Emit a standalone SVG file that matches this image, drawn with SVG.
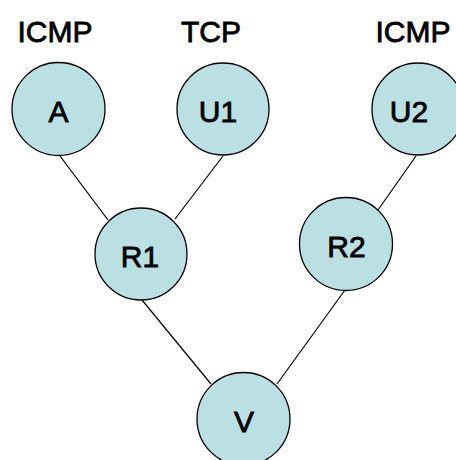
<svg xmlns="http://www.w3.org/2000/svg" width="456" height="460" viewBox="0 0 456 460">
  <style>
    .node circle { fill: #bae0e3; stroke: #000; stroke-width: 1.3; }
    .node text, .lbl { font-family: "Liberation Sans", Arial, sans-serif; font-size: 30px; fill: #000; stroke: #000; stroke-width: 0.8; text-anchor: middle; }
    .edges line { stroke: #000; stroke-width: 1.2; }
  </style>
  <rect width="456" height="460" fill="#fff"/>

  <!-- protocol labels -->
  <text class="lbl" x="55" y="42">ICMP</text>
  <text class="lbl" x="211" y="42">TCP</text>
  <text class="lbl" x="413" y="42">ICMP</text>

  <!-- links -->
  <g id="edges" class="edges">
    <line x1="60" y1="156" x2="108" y2="220"/>
    <line x1="223" y1="156" x2="175" y2="219"/>
    <line x1="416" y1="156" x2="378" y2="210"/>
    <line x1="142" y1="300" x2="211" y2="384"/>
    <line x1="345" y1="290" x2="277" y2="384"/>
  </g>

  <g id="A" class="node">
    <circle cx="58.5" cy="109" r="46.5"/>
    <text x="58.5" y="122">A</text>
  </g>
  <g id="U1" class="node">
    <circle cx="223" cy="109" r="46"/>
    <text x="218" y="122">U1</text>
  </g>
  <g id="U2" class="node">
    <circle cx="418" cy="109" r="46"/>
    <text x="409" y="122">U2</text>
  </g>
  <g id="R1" class="node">
    <circle cx="141" cy="254" r="46"/>
    <text x="140" y="267">R1</text>
  </g>
  <g id="R2" class="node">
    <circle cx="346" cy="244" r="46.5"/>
    <text x="346.5" y="257">R2</text>
  </g>
  <g id="V" class="node">
    <circle cx="243.5" cy="419" r="46.5"/>
    <text x="244" y="432">V</text>
  </g>
</svg>
